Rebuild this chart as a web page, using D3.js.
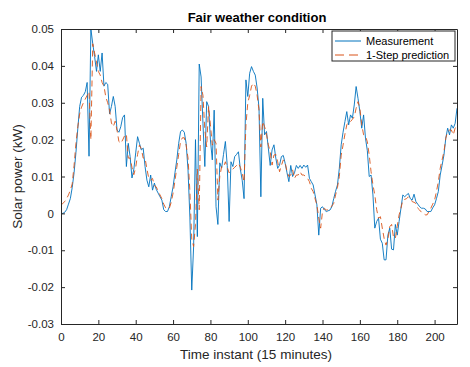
<!DOCTYPE html>
<html>
<head>
<meta charset="utf-8">
<script src="https://cdn.jsdelivr.net/npm/d3@7"></script>
<style>
body{margin:0;background:#fff;}
svg{font-family:"Liberation Sans",Arial,Helvetica,sans-serif;}
</style>
</head>
<body>
<div id="chart"></div>
<script>
'use strict';

var measurement = [
0,0,0.0003,0.001,0.0025,0.004,0.007,0.011,0.0165,0.023,
0.029,0.0315,0.032,0.033,0.0355,0.0155,0.0500,0.0460,0.0425,0.0385,
0.0430,0.0385,0.0435,0.0345,0.0355,0.0350,0.0270,0.0290,0.0317,0.0290,
0.0226,0.0220,0.0235,0.0260,0.0267,0.0127,0.0190,0.0154,0.0096,0.0120,
0.0164,0.0208,0.0190,0.0172,0.0177,0.0127,0.0090,0.0072,0.0104,0.0063,
0.0082,0.0065,0.0055,0.0045,0.0036,0.0010,0.0005,0.0005,0.0018,0.0045,
0.0072,0.0110,0.0145,0.0190,0.0222,0.0226,0.0220,0.0190,0.0118,-0.0010,
-0.0208,-0.0090,0.0200,-0.0063,0.0405,0.0370,0.0244,0.0127,0.0303,0.0290,
0.0199,0.0145,0.0280,0.0018,-0.0030,0.0137,0.0123,0.0160,0.0195,0.0130,
-0.0022,0.0140,0.0127,0.0154,0.0160,0.0167,0.0120,0.0090,0.0040,0.0362,
0.0317,0.0380,0.0398,0.0385,0.0375,0.0340,0.0285,0.0045,0.0312,0.0213,
0.0222,0.0177,0.0130,0.0172,0.0186,0.0150,0.0122,0.0131,0.0154,0.0157,
0.0136,0.0110,0.0086,0.0130,0.0100,0.0110,0.0130,0.0122,0.0130,0.0122,
0.0131,0.0125,0.0131,0.0095,0.0086,0.0077,0.0050,0.0023,-0.0059,0.0014,
0.0018,0.0010,0.0005,0.0007,0.0009,0.0018,0.0040,0.0060,0.0077,0.0122,
0.0186,0.0220,0.0249,0.0276,0.0240,0.0267,0.0258,0.0294,0.0344,0.0312,
0.0276,0.0231,0.0267,0.0204,0.0170,0.0100,0.0104,0.0050,-0.0040,-0.0022,
-0.0013,-0.0070,-0.0081,-0.0126,-0.0126,-0.0059,-0.0040,-0.0097,-0.0099,-0.0030,
-0.0059,-0.0022,0.0014,0.0050,0.0045,0.0050,0.0054,0.0040,0.0036,0.0052,
0.0032,0.0025,0.0018,0.0014,0.0014,0.0012,0.0005,0.0005,0.0005,0.0015,
0.0023,0.0040,0.0059,0.0104,0.0130,0.0158,0.0204,0.0231,0.0213,0.0240,
0.0231,0.0244,0.0285]

var prediction = [
0.0023,0.0027,0.0032,0.0040,0.0050,0.0063,0.0080,0.0130,0.0190,0.0235,
0.0270,0.0288,0.0300,0.0310,0.0320,0.0330,0.0200,0.0460,0.0435,0.0410,
0.0385,0.0375,0.0355,0.0345,0.0315,0.0300,0.0280,0.0245,0.0235,0.0250,
0.0225,0.0195,0.0190,0.0199,0.0210,0.0215,0.0150,0.0150,0.0125,0.0105,
0.0125,0.0160,0.0185,0.0175,0.0150,0.0150,0.0120,0.0095,0.0090,0.0095,
0.0075,0.0072,0.0060,0.0050,0.0040,0.0025,0.0015,0.0012,0.0014,0.0030,
0.0055,0.0088,0.0125,0.0160,0.0195,0.0205,0.0205,0.0185,0.0150,0.0060,
-0.0070,-0.0090,-0.0030,0.0120,0.0010,0.0344,0.0320,0.0226,0.0180,0.0290,
0.0240,0.0185,0.0200,0.0190,0.0036,0.0100,0.0127,0.0125,0.0140,0.0125,
0.0110,0.0115,0.0120,0.0125,0.0130,0.0136,0.0125,0.0109,0.0085,0.0240,
0.0300,0.0320,0.0345,0.0353,0.0345,0.0320,0.0280,0.0180,0.0249,0.0235,
0.0215,0.0186,0.0167,0.0131,0.0158,0.0160,0.0140,0.0113,0.0130,0.0145,
0.0138,0.0113,0.0100,0.0104,0.0118,0.0095,0.0104,0.0104,0.0113,0.0104,
0.0104,0.0100,0.0095,0.0086,0.0068,0.0059,0.0040,0.0023,-0.0013,-0.0040,
0.0005,0.0014,0.0009,0.0010,0.0014,0.0020,0.0027,0.0050,0.0070,0.0100,
0.0158,0.0185,0.0215,0.0240,0.0249,0.0249,0.0255,0.0262,0.0285,0.0303,
0.0285,0.0240,0.0213,0.0210,0.0194,0.0158,0.0113,0.0077,0.0050,0.0010,
-0.0013,-0.0009,-0.0040,-0.0068,-0.0086,-0.0070,-0.0036,-0.0030,-0.0065,-0.0068,
-0.0035,-0.0004,0.0014,0.0036,0.0038,0.0040,0.0045,0.0040,0.0032,0.0030,
0.0027,0.0014,0.0009,0.0003,0.0000,-0.0004,-0.0004,0.0005,0.0014,0.0025,
0.0036,0.0059,0.0086,0.0122,0.0145,0.0167,0.0204,0.0222,0.0226,0.0226,
0.0213,0.0231,0.0240]

var xTicks = [0,20,40,60,80,100,120,140,160,180,200]
var yTicks = [-0.03,-0.02,-0.01,0,0.01,0.02,0.03,0.04,0.05]
var yTickLabels = ["-0.03","-0.02","-0.01","0","0.01","0.02","0.03","0.04","0.05"]
var seriesNames = ["Measurement","1-Step prediction"]

var W = 470, H = 367
var m = {left:61, right:13, top:29, bottom:43}
var axisColor = "#262626"
var blue = "#0072BD", orange = "#D95319"

var svg = d3.select("#chart").append("svg").attr("width",W).attr("height",H)

var x = d3.scaleLinear().domain([0,212]).range([m.left, W-m.right])
var y = d3.scaleLinear().domain([-0.03,0.05]).range([H-m.bottom, m.top])

svg.append("clipPath").attr("id","plotclip").append("rect")
    .attr("x",m.left).attr("y",m.top-1)
    .attr("width",W-m.left-m.right).attr("height",H-m.top-m.bottom+2)

var line = d3.line()
    .x(function(d,i){ return x(i) })
    .y(function(d){ return y(d) })

var plot = svg.append("g").attr("clip-path","url(#plotclip)")
plot.append("path").datum(measurement)
    .attr("d",line).attr("fill","none").attr("stroke",blue).attr("stroke-width",0.9)
plot.append("path").datum(prediction)
    .attr("d",line).attr("fill","none").attr("stroke",orange).attr("stroke-width",0.9)
    .attr("stroke-dasharray","6,4")

// axes, matlab style: ticks inside, on all four sides
var tl = 4
svg.append("g")
    .attr("transform","translate(0,"+(H-m.bottom)+")")
    .call(d3.axisBottom(x).tickValues(xTicks).tickSizeInner(-tl).tickSizeOuter(0).tickPadding(9)
        .tickFormat(function(d){ return d }))
svg.append("g")
    .attr("transform","translate(0,"+m.top+")")
    .call(d3.axisTop(x).tickValues(xTicks).tickSizeInner(-tl).tickSizeOuter(0).tickFormat(""))
svg.append("g")
    .attr("transform","translate("+m.left+",0)")
    .call(d3.axisLeft(y).tickValues(yTicks).tickSizeInner(-tl).tickSizeOuter(0).tickPadding(7)
        .tickFormat(function(d,i){ return yTickLabels[i] }))
svg.append("g")
    .attr("transform","translate("+(W-m.right)+",0)")
    .call(d3.axisRight(y).tickValues(yTicks).tickSizeInner(-tl).tickSizeOuter(0).tickFormat(""))

svg.selectAll(".domain").attr("stroke",axisColor)
svg.selectAll(".tick line").attr("stroke",axisColor)
svg.selectAll(".tick text").attr("fill",axisColor).style("font-size","11.5px")
    .style("font-family","'Liberation Sans',Arial,sans-serif")

svg.append("text").text("Fair weather condition")
    .attr("x",(m.left+W-m.right)/2 - 2).attr("y",m.top-7)
    .attr("text-anchor","middle").style("font-weight","bold").style("font-size","13px").attr("fill","#000")

svg.append("text").text("Time instant (15 minutes)")
    .attr("x",(m.left+W-m.right)/2 - 3).attr("y",H-8)
    .attr("text-anchor","middle").style("font-size","13.5px").attr("fill",axisColor)

svg.append("text").text("Solar power (kW)")
    .attr("transform","translate(22,"+((m.top+H-m.bottom)/2)+") rotate(-90)")
    .attr("text-anchor","middle").style("font-size","13.5px").attr("fill",axisColor)

// legend
var lg = svg.append("g").attr("transform","translate(332,31)")
lg.append("rect").attr("width",123).attr("height",30)
    .attr("fill","#fff").attr("stroke",axisColor).attr("stroke-width",1)
seriesNames.forEach(function(name,i){
    var yy = 10 + i*14
    lg.append("line").attr("x1",3).attr("x2",29).attr("y1",yy).attr("y2",yy)
        .attr("stroke",i==0 ? blue : orange).attr("stroke-width",1)
        .attr("stroke-dasharray",i==0 ? null : "9,5")
    lg.append("text").text(name).attr("x",34).attr("y",yy+3.8)
        .style("font-size","11px").attr("fill","#000")
})
</script>
</body>
</html>
